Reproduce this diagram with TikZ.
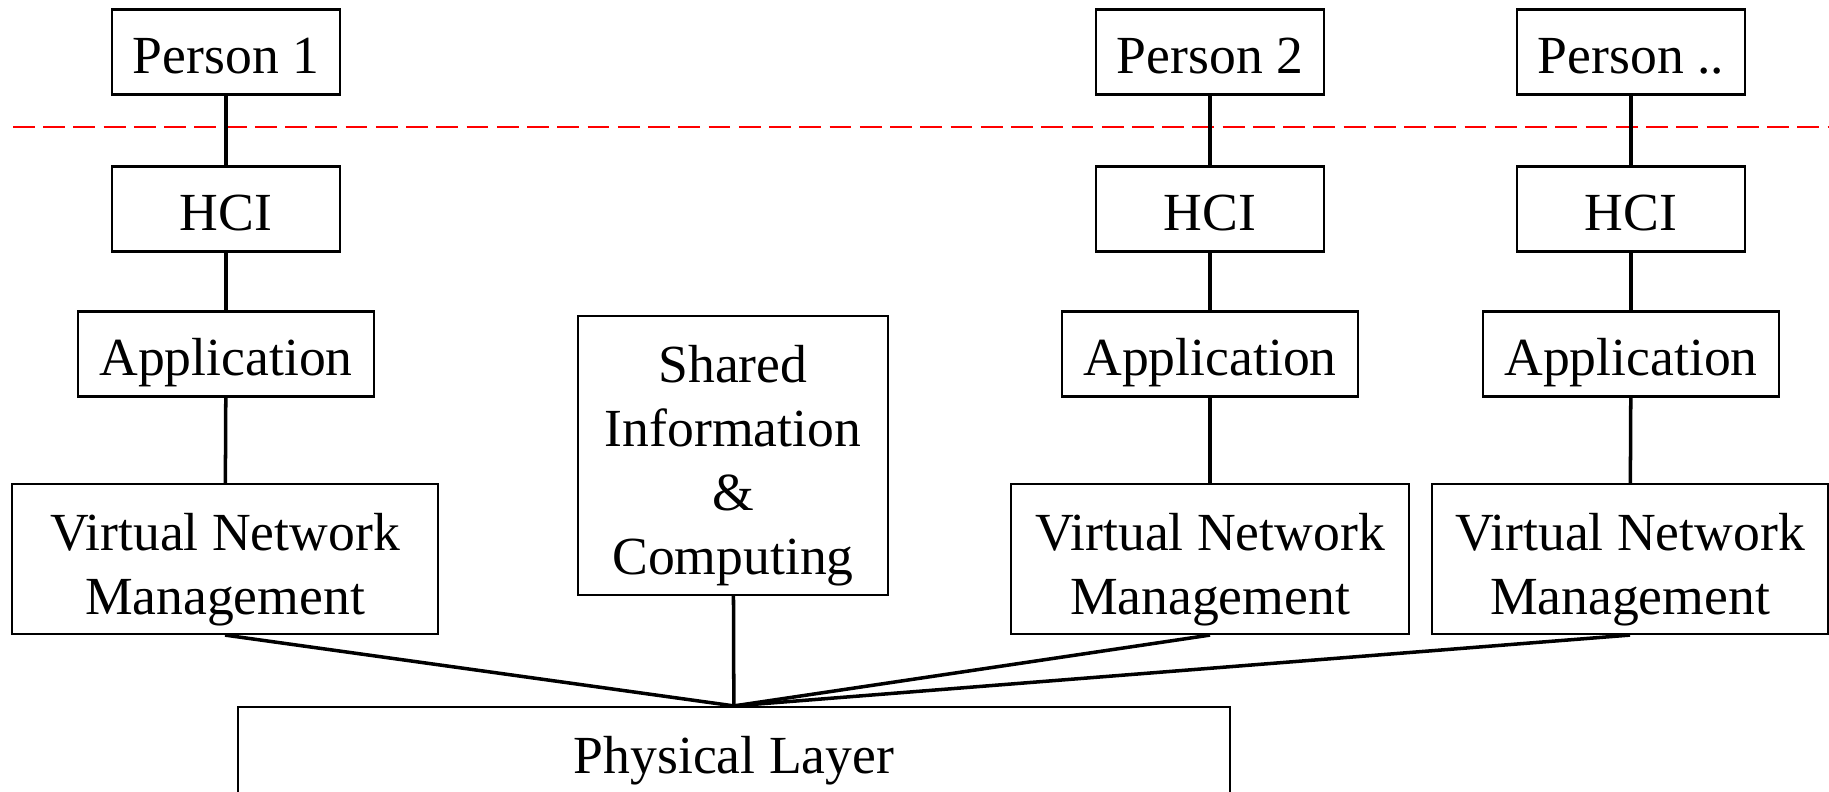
\documentclass[tikz,border=0pt]{standalone}
\usepackage{fontspec}
\setmainfont{Liberation Serif}
\usetikzlibrary{shapes,arrows}

\newcommand{\topgap}{\rule{0pt}{16.5pt}}

\tikzset{
  layer/.style={draw, line width=0.6pt, inner sep=0pt, align=center, minimum height=0.85cm, text height=12pt, text depth=0pt},
  biglayer/.style={draw, line width=0.6pt, inner sep=0pt, align=center},
  link/.style={line width=1pt},
}

\begin{document}
\begin{tikzpicture}[x=0.01cm, y=-0.01cm, font=\fontsize{15.25}{18.2}\selectfont]
\useasboundingbox (0,0) rectangle (1829,792);
% border between the persons and the machines
\draw [red, line width=0.45pt, dash pattern=on 6.2pt off 2.4pt] (13,127) -- (1829,127);
% one stack for every person
\foreach \c/\x/\vx/\vw/\who in {1/226/225/4.25/{Person 1}, 2/1210/1210/3.98/{Person 2}, 3/1631/1630/3.96/{Person ..}} {
    \node[layer, minimum width=2.275cm] (p\c) at (\x,52) {\who};
    \node[layer, minimum width=2.275cm] (h\c) at (\x,209) {HCI};
    \node[layer, minimum width=2.96cm] (a\c) at (\x,354) {Application};
    \node[biglayer, minimum width=\vw cm, minimum height=1.5cm] (v\c) at (\vx,559) {\topgap Virtual Network\\Management};
}
\node[biglayer, minimum width=3.09cm, minimum height=2.79cm] (shared) at (733,455.5) {\topgap Shared\\Information\\\&\\Computing};
\node[layer, minimum width=9.915cm, minimum height=0.9cm] (phys) at (734,752) {Physical Layer};
% links
\foreach \c in {1,2,3} {
    \draw [link] (p\c) -- (h\c);
    \draw [link] (h\c) -- (a\c);
    \draw [link] (a\c) -- (v\c);
    \draw [link] (v\c.south) -- (phys.north);
}
\draw [link] (shared) -- (phys);
\end{tikzpicture}
\end{document}
